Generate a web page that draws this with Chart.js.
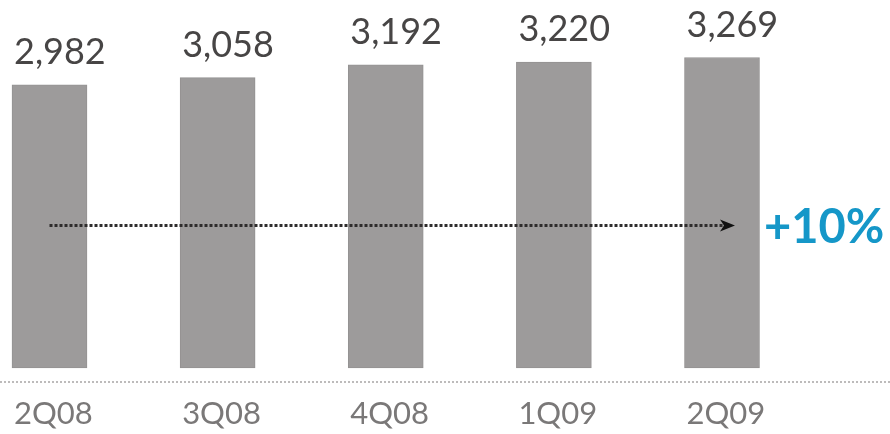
<!DOCTYPE html>
<html>
<head>
<meta charset="utf-8">
<script src="https://cdn.jsdelivr.net/npm/chart.js@4/dist/chart.umd.min.js"></script>
<style>
    html, body { margin: 0; padding: 0; background: #ffffff; }
    #wrap { position: relative; width: 890px; height: 434px; }
</style>
</head>
<body>
<div id="wrap"><canvas id="chart"></canvas></div>
<script>
const quarters = ['2Q08', '3Q08', '4Q08', '1Q09', '2Q09'];
const revenue = [2982, 3058, 3192, 3220, 3269];
const arrowLevel = 1500;

const numberFormatter = new Intl.NumberFormat('en-US');

// value above each bar, quarter name under the dotted baseline
const barLabels = {
    id: 'barLabels',
    afterDatasetsDraw: function (chart) {
        const ctx = chart.ctx;
        const meta = chart.getDatasetMeta(0);
        const yScale = chart.scales.y;
        const baseY = yScale.getPixelForValue(0);

        ctx.save();
        ctx.textAlign = 'left';
        ctx.textBaseline = 'alphabetic';
        meta.data.forEach(function (bar, i) {
            const left = bar.x - bar.width / 2 + 2;
            ctx.fillStyle = '#474545';
            ctx.font = '36px Lato, "Open Sans", sans-serif';
            ctx.fillText(numberFormatter.format(revenue[i]), left, bar.y - 21);

            ctx.fillStyle = '#7a7878';
            ctx.font = '31px Lato, "Open Sans", sans-serif';
            ctx.fillText(quarters[i], left, baseY + 56);
        });

        // dotted baseline across the full width
        ctx.strokeStyle = '#bdbbbb';
        ctx.lineWidth = 2;
        ctx.setLineDash([2, 2]);
        ctx.beginPath();
        ctx.moveTo(0, baseY + 14);
        ctx.lineTo(chart.width, baseY + 14);
        ctx.stroke();

        // growth arrow from first to last quarter
        const first = meta.data[0];
        const last = meta.data[meta.data.length - 1];
        const ay = yScale.getPixelForValue(arrowLevel);
        const x0 = first.x;
        const tip = last.x + 13;

        ctx.strokeStyle = '#2e2c2c';
        ctx.lineWidth = 3;
        ctx.setLineDash([3, 2]);
        ctx.beginPath();
        ctx.moveTo(x0, ay);
        ctx.lineTo(tip - 12, ay);
        ctx.stroke();
        ctx.setLineDash([]);

        ctx.fillStyle = '#111111';
        ctx.beginPath();
        ctx.moveTo(tip, ay);
        ctx.lineTo(tip - 15, ay - 6);
        ctx.lineTo(tip - 11, ay);
        ctx.lineTo(tip - 15, ay + 6);
        ctx.closePath();
        ctx.fill();

        const growth = Math.round((revenue[revenue.length - 1] / revenue[0] - 1) * 100);
        ctx.fillStyle = '#1597c8';
        ctx.font = 'bold 47px Lato, "Open Sans", sans-serif';
        ctx.textBaseline = 'middle';
        ctx.fillText('+' + growth + '%', tip + 29, ay + 2);
        ctx.restore();
    }
};

new Chart(document.getElementById('chart'), {
    type: 'bar',
    data: {
        labels: quarters,
        datasets: [{
            data: revenue,
            backgroundColor: '#9d9b9b',
            borderColor: '#949292',
            borderWidth: 1,
            borderSkipped: false,
            barThickness: 75,
            clip: false
        }]
    },
    options: {
        responsive: true,
        maintainAspectRatio: false,
        animation: false,
        layout: {
            padding: { left: 49.5, right: 168, top: 35.6, bottom: 66 }
        },
        plugins: {
            legend: { display: false },
            tooltip: { enabled: false }
        },
        scales: {
            x: {
                display: false,
                offset: false
            },
            y: {
                display: false,
                min: 0,
                max: 3500
            }
        }
    },
    plugins: [barLabels]
});
</script>
</body>
</html>
